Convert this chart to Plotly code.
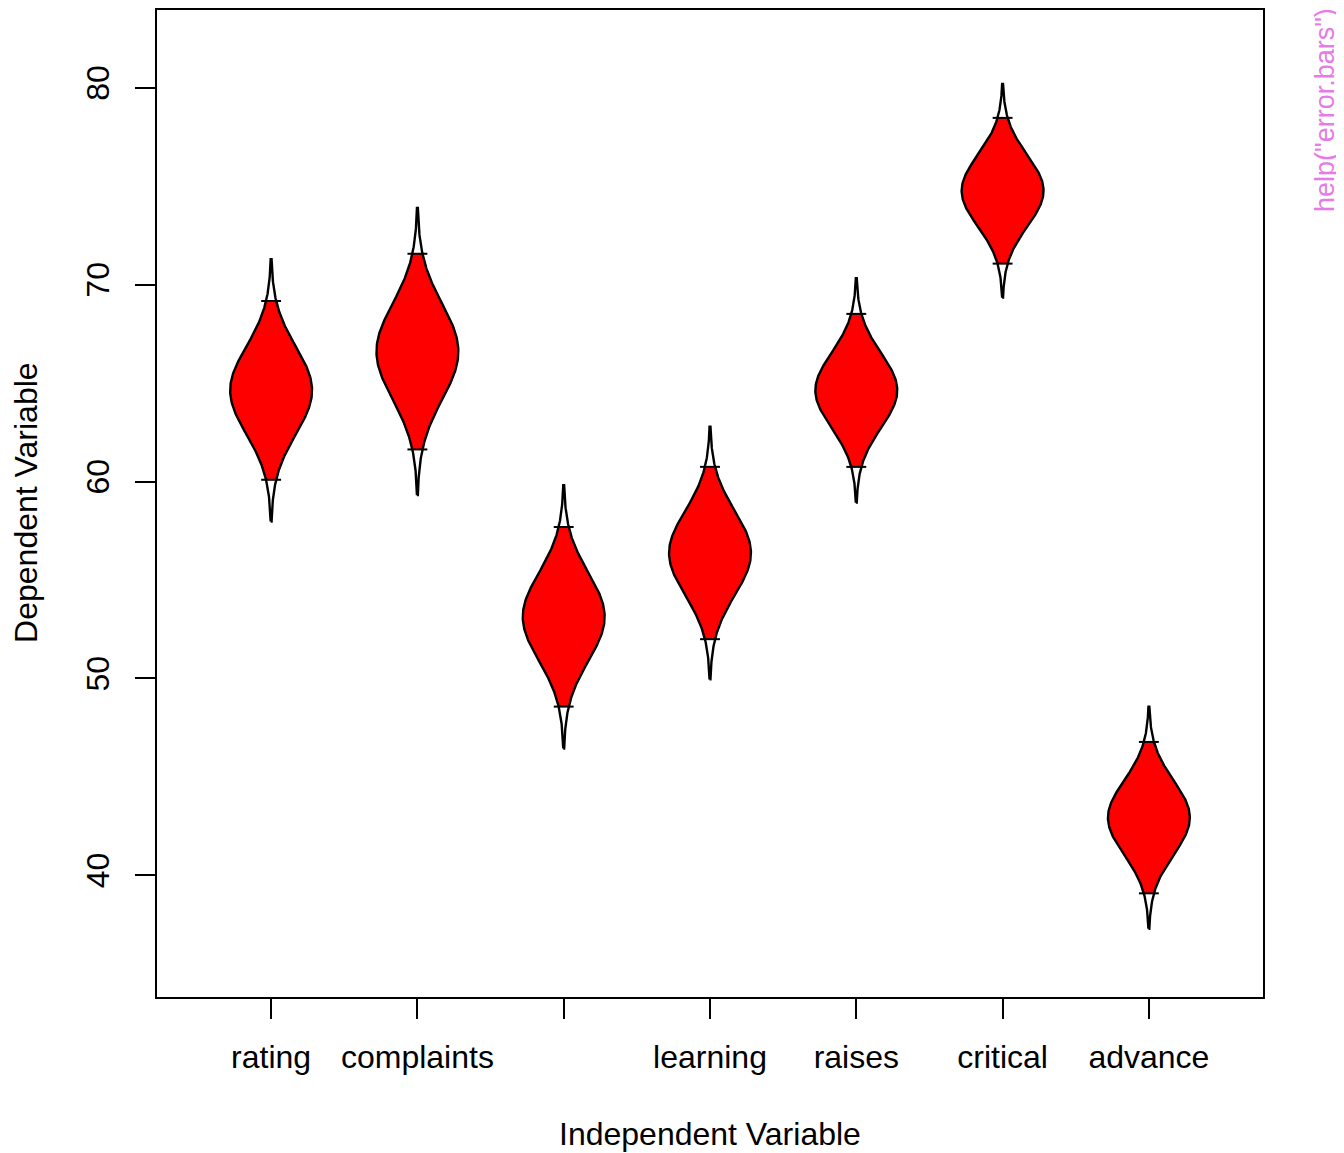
import numpy as np
import plotly.graph_objects as go

# Data (means and standard errors, n = 30 per variable)
categories = ["rating", "complaints", "privileges", "learning", "raises", "critical", "advance"]
tick_labels = ["rating", "complaints", "", "learning", "raises", "critical", "advance"]
means = [64.63, 66.60, 53.13, 56.37, 64.63, 74.77, 42.93]
ses = [2.22, 2.43, 2.23, 2.14, 1.90, 1.81, 1.88]
n_obs = 30
t_crit = 2.045  # 95% two-sided t, df = 29

EYE_WIDTH = 0.28
TICK_HALF = 0.068
FONT = "Liberation Sans, Arial, Helvetica, sans-serif"

fig = go.Figure()

for i, (cat, m, se) in enumerate(zip(categories, means, ses)):
    xc = i + 1
    # full eye outline (±3 SE)
    z = np.linspace(-3, 3, 241)
    w = EYE_WIDTH * np.exp(-z ** 2 / 2)
    yv = m + z * se
    # filled red part within confidence interval
    zc = np.linspace(-t_crit, t_crit, 201)
    wc = EYE_WIDTH * np.exp(-zc ** 2 / 2)
    yc = m + zc * se
    fig.add_trace(go.Scatter(
        x=np.concatenate([xc - wc, (xc + wc)[::-1]]),
        y=np.concatenate([yc, yc[::-1]]),
        fill="toself", fillcolor="#FF0000", mode="none",
        hoverinfo="skip", showlegend=False))
    # outline
    fig.add_trace(go.Scatter(
        x=np.concatenate([xc - w, (xc + w)[::-1], [xc - w[0]]]),
        y=np.concatenate([yv, yv[::-1], [yv[0]]]),
        mode="lines", line=dict(color="black", width=2.4),
        name=cat, showlegend=False))
    # CI ticks
    lo, hi = m - t_crit * se, m + t_crit * se
    fig.add_trace(go.Scatter(
        x=[xc - TICK_HALF, xc + TICK_HALF, None, xc - TICK_HALF, xc + TICK_HALF],
        y=[lo, lo, None, hi, hi],
        mode="lines", line=dict(color="black", width=2),
        hoverinfo="skip", showlegend=False))

fig.update_layout(
    width=1336, height=1145,
    margin=dict(l=149, r=81, t=0, b=156),
    paper_bgcolor="white", plot_bgcolor="white",
    font=dict(family=FONT, size=32, color="black"),
    xaxis=dict(
        range=[0.22, 7.78], tickmode="array", tickvals=list(range(1, 8)),
        ticktext=tick_labels, ticks="outside", ticklen=20, tickwidth=2,
        tickcolor="black", showgrid=False, zeroline=False,
        showline=True, linecolor="black", linewidth=2, mirror=True,
        ticklabelstandoff=11,
    ),
    yaxis=dict(
        range=[33.82, 83.95], tickmode="array", tickvals=[40, 50, 60, 70, 80],
        ticks="outside", ticklen=20, tickwidth=2, tickcolor="black",
        tickangle=-90, showgrid=False, zeroline=False,
        showline=True, linecolor="black", linewidth=2, mirror=True,
        ticklabelstandoff=13,
    ),
    annotations=[
        dict(text="Independent Variable", xref="paper", yref="paper",
             x=0.5, y=-0.1384, xanchor="center", yanchor="middle",
             showarrow=False, font=dict(size=32)),
        dict(text="Dependent Variable", xref="paper", yref="paper",
             x=-0.119, y=0.501, xanchor="center", yanchor="middle",
             textangle=-90, showarrow=False, font=dict(size=32)),
        dict(text='help("error.bars")', xref="paper", yref="paper",
             x=1.056, y=1.003, xanchor="center", yanchor="top",
             textangle=-90, showarrow=False, borderpad=0,
             font=dict(size=27, color="#E67AE6")),
    ],
)

fig.write_html("out.html")
